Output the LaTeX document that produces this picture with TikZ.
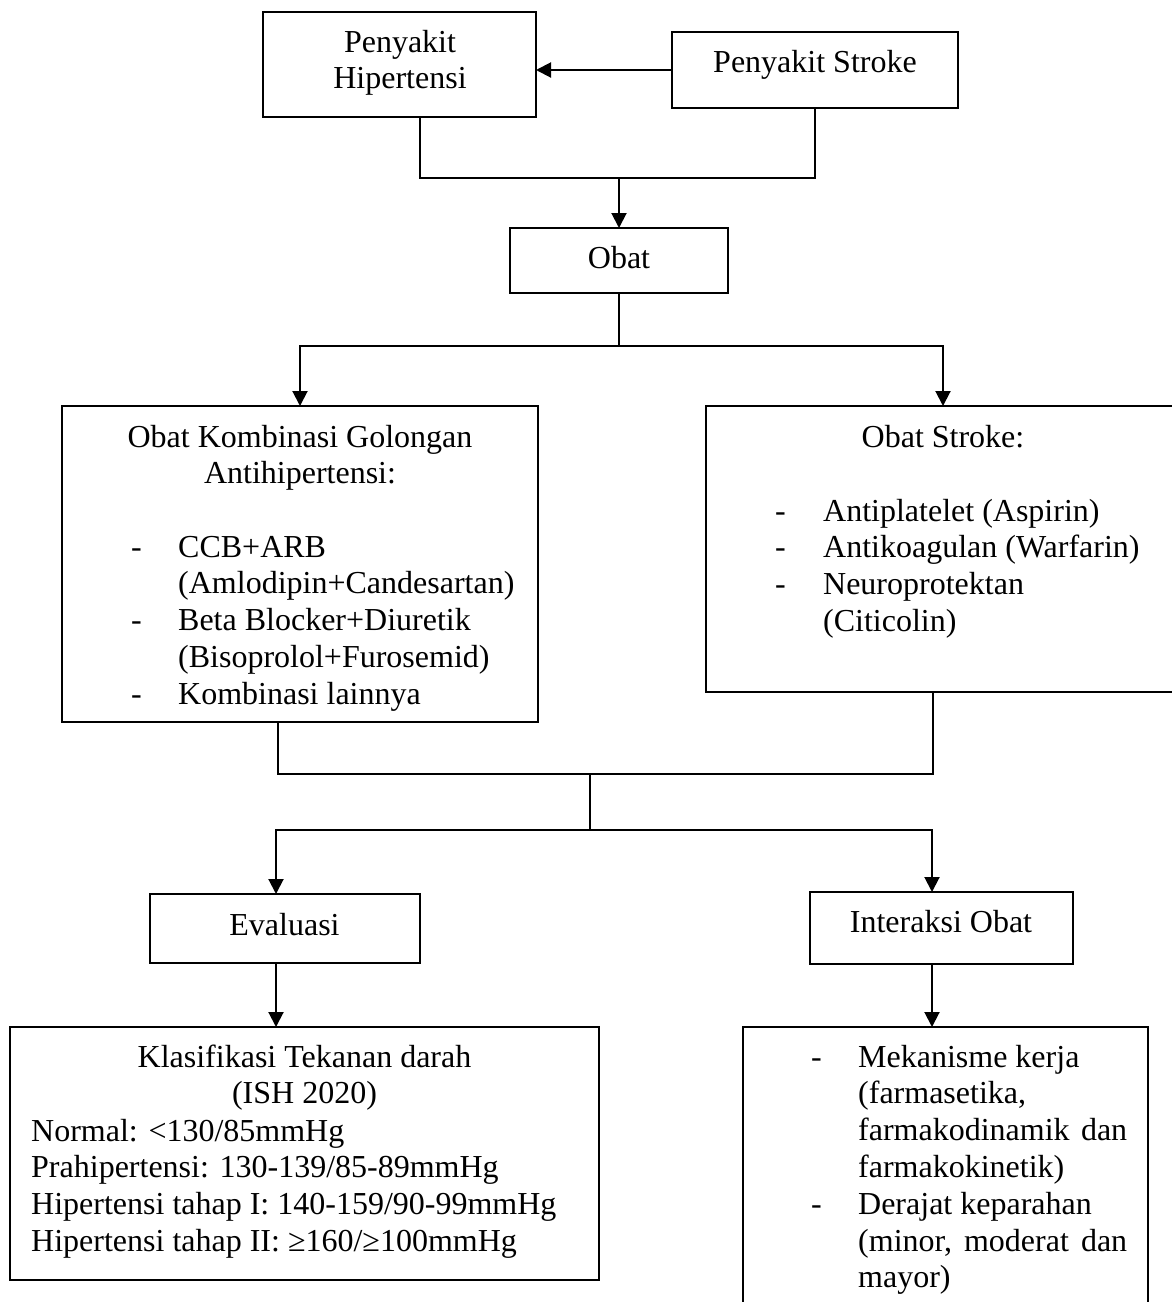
\documentclass[tikz,border=0pt]{standalone}
\usepackage{fontspec}
\setmainfont{Liberation Serif}
\usetikzlibrary{arrows.meta}

\tikzset{
  box/.style={draw, line width=1.2pt, inner sep=0pt, outer sep=0pt},
  txt/.style={inner sep=0pt, anchor=base, font=\fontsize{32}{36.8}\selectfont},
  lst/.style={txt, anchor=base west},
  link/.style={line width=2pt},
  >={Triangle[length=15pt,width=15pt]}
}

\begin{document}
\begin{tikzpicture}[x=1pt,y=-1pt]
  \useasboundingbox (0,0) rectangle (1172,1302);
  % boxes
  \draw
    (399.5,64.5) node[box, minimum width=273pt, minimum height=105pt] (hip){}
    (815,70) node[box, minimum width=286pt, minimum height=76pt] (strk){}
    (619,260.5) node[box, minimum width=218pt, minimum height=65pt] (obat){}
    (300,564) node[box, minimum width=476pt, minimum height=316pt] (kombi){}
    (943,549) node[box, minimum width=474pt, minimum height=286pt] (obst){}
    (285,928.5) node[box, minimum width=270pt, minimum height=69pt] (eval){}
    (941.5,928) node[box, minimum width=263pt, minimum height=72pt] (inter){}
    (304.5,1153.5) node[box, minimum width=589pt, minimum height=253pt] (klas){}
    (945.5,1173.5) node[box, minimum width=405pt, minimum height=293pt] (meka){};
  % texts
  \node[txt] (hipT) at (400,52) {\begin{tabular}[t]{@{}c@{}}Penyakit\\Hipertensi\end{tabular}};
  \node[txt] (strkT) at (815,72) {Penyakit Stroke};
  \node[txt] (obatT) at (619,268) {Obat};
  \node[txt] (kombiT) at (300,447) {\begin{tabular}[t]{@{}c@{}}Obat Kombinasi Golongan\\Antihipertensi:\end{tabular}};
  \node[lst] (kombiL) at (131,557) {\begin{tabular}[t]{@{}p{47pt}@{}l@{}}
    -&CCB+ARB\\
    &(Amlodipin+Candesartan)\\
    -&Beta Blocker+Diuretik\\
    &(Bisoprolol+Furosemid)\\
    -&Kombinasi lainnya
  \end{tabular}};
  \node[txt] (obstT) at (943,447) {Obat Stroke:};
  \node[lst] (obstL) at (775,521) {\begin{tabular}[t]{@{}p{48pt}@{}l@{}}
    -&Antiplatelet (Aspirin)\\
    -&Antikoagulan (Warfarin)\\
    -&Neuroprotektan\\
    &(Citicolin)
  \end{tabular}};
  \node[txt] (evalT) at (284.5,935) {Evaluasi};
  \node[txt] (interT) at (941,932) {Interaksi Obat};
  \node[txt] (klasT) at (304.5,1067) {\begin{tabular}[t]{@{}c@{}}Klasifikasi Tekanan darah\\(ISH 2020)\end{tabular}};
  \node[lst] (klasL) at (31,1141) {\begin{tabular}[t]{@{}l@{}}
    Normal: <130/85mmHg\\
    Prahipertensi: 130-139/85-89mmHg\\
    Hipertensi tahap I: 140-159/90-99mmHg\\
    Hipertensi tahap II: ≥160/≥100mmHg
  \end{tabular}};
  \node[lst] (mekaL) at (811,1067) {\begin{tabular}[t]{@{}p{47pt}@{}l@{}}
    -&Mekanisme kerja\\
    &(farmasetika,\\
    &\makebox[269pt][l]{farmakodinamik\hfill dan}\\
    &farmakokinetik)\\
    -&Derajat keparahan\\
    &\makebox[269pt][l]{(minor,\hfill moderat\hfill dan}\\
    &mayor)
  \end{tabular}};
  % junctions
  \coordinate (jl) at (420,178);
  \coordinate (jr) at (815,178);
  \coordinate (jb) at (619,346);
  \coordinate (jcl) at (278,774);
  \coordinate (jcr) at (933,774);
  \coordinate (jc) at (590,774);
  \coordinate (jd) at (590,830);
  \coordinate (jdl) at (276,830);
  \coordinate (jdr) at (932,830);
  \begin{scope}[link]
    \draw[->] (strk.west) -- (strk.west -| hip.east);
    \draw (hip.south -| jl) -- (jl) -- (jr) -- (strk.south);
    \draw[->] (obat.north |- jl) -- (obat.north);
    \draw (obat.south) -- (jb);
    \draw[->] (jb) -| (kombi.north);
    \draw[->] (jb) -| (obst.north);
    \draw (kombi.south -| jcl) -- (jcl) -- (jcr) -- (obst.south -| jcr);
    \draw (jc) -- (jd);
    \draw[->] (jd) -| (eval.north -| jdl);
    \draw[->] (jd) -| (inter.north -| jdr);
    \draw[->] (eval.south -| jdl) -- (klas.north -| jdl);
    \draw[->] (inter.south -| jdr) -- (meka.north -| jdr);
  \end{scope}
\end{tikzpicture}
\end{document}
